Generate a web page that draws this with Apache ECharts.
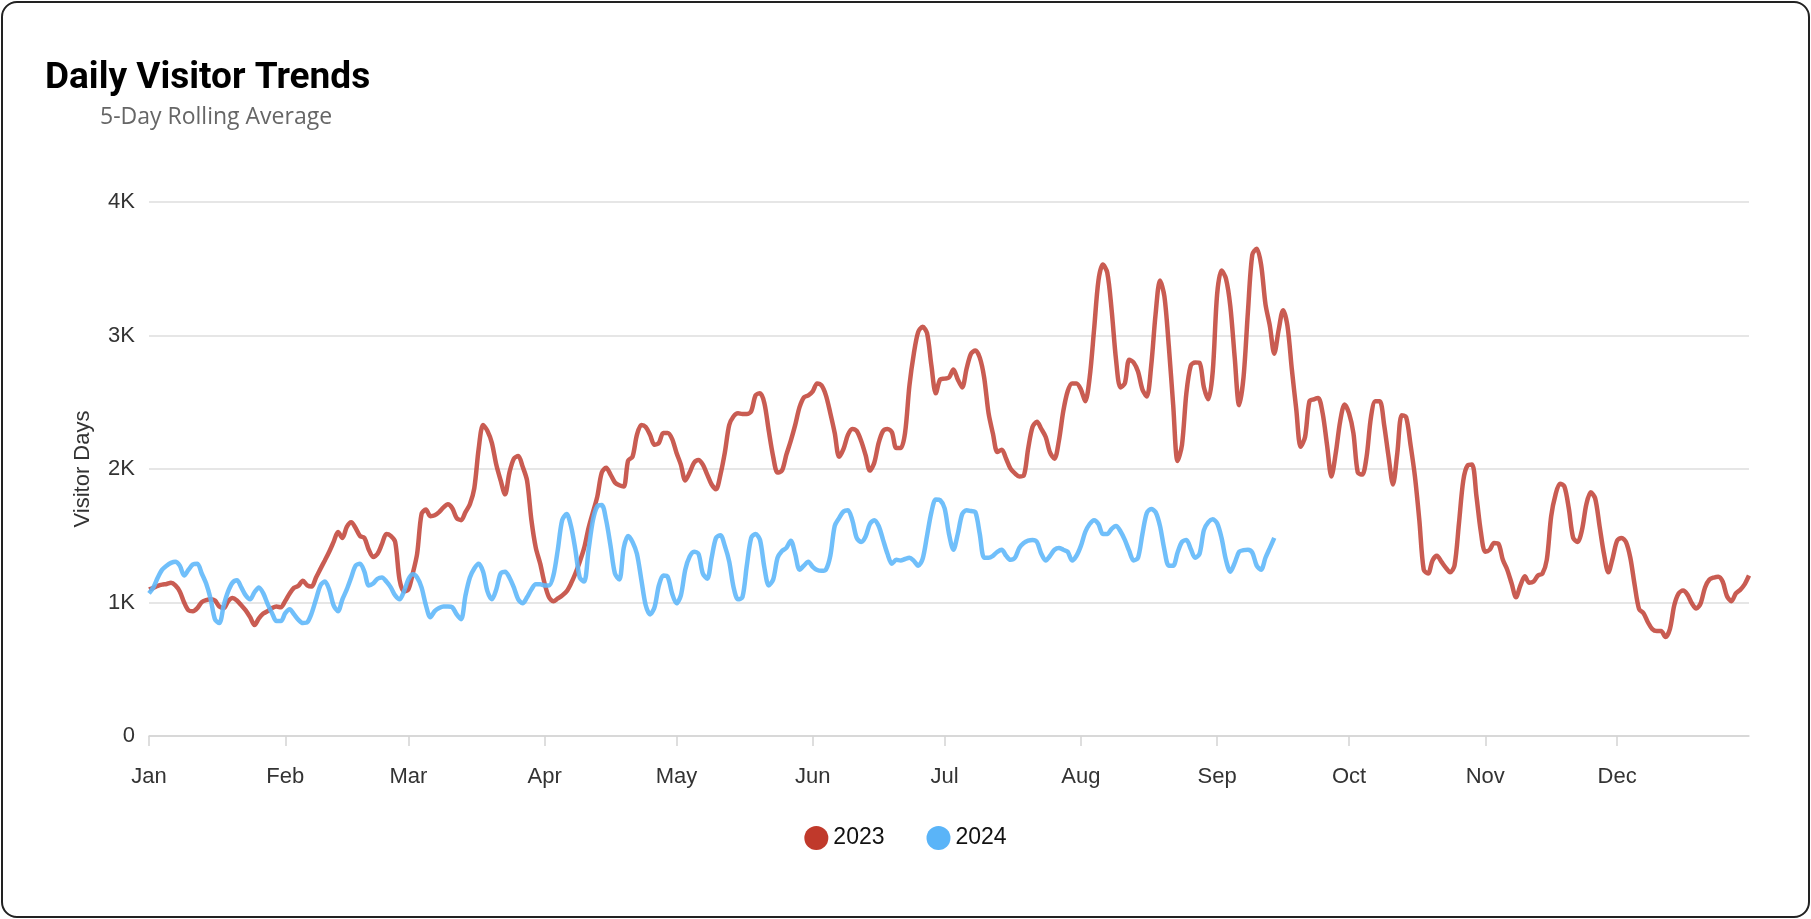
<!DOCTYPE html>
<html>
<head>
<meta charset="utf-8">
<title>Daily Visitor Trends</title>
<script src="https://cdn.jsdelivr.net/npm/echarts@6/dist/echarts.min.js"></script>
<style>
  html, body { margin: 0; padding: 0; background: #fff; }
  #wrap { position: relative; width: 1811px; height: 919px; }
  #chart { position: absolute; left: 0; top: 0; width: 1811px; height: 919px; }
  #frame {
    position: absolute; left: 1px; top: 1px; right: 1px; bottom: 1px;
    border: 2px solid #222; border-radius: 16px; pointer-events: none;
  }
</style>
</head>
<body>
<div id="wrap">
  <div id="chart"></div>
  <div id="frame"></div>
</div>
<script>
// month axis
const monthLabels = ['Jan', 'Feb', 'Mar', 'Apr', 'May', 'Jun', 'Jul', 'Aug', 'Sep', 'Oct', 'Nov', 'Dec'];
const monthDays = [31, 28, 31, 30, 31, 30, 31, 31, 30, 31, 30, 31];
const yTicks = [0, 1000, 2000, 3000, 4000];

// 5-day rolling average, one value per day of year
const visitors2023 = [
  1098, 1110, 1125, 1134, 1139, 1148, 1128, 1083, 1000, 941,
  935, 958, 1003, 1018, 1024, 1015, 970, 958, 1009, 1033,
  1015, 979, 941, 890, 831, 881, 917, 935, 958, 970,
  964, 1012, 1068, 1110, 1125, 1163, 1128, 1119, 1187, 1252,
  1315, 1380, 1454, 1528, 1484, 1567, 1602, 1558,
  1499, 1484, 1395, 1341, 1365, 1439, 1513, 1499, 1454, 1172, 1083, 1098,
  1217, 1365, 1662, 1697, 1647, 1653, 1677, 1712, 1736, 1706,
  1632, 1617, 1677, 1736, 1855, 2151, 2329, 2285, 2196, 2033,
  1914, 1810, 1973, 2077, 2097, 2018, 1914, 1617, 1409, 1291,
  1142, 1039, 1009, 1030, 1053, 1083, 1142, 1217, 1306, 1409,
  1558, 1677, 1795, 1973, 2009, 1958, 1899, 1878, 1869, 2062,
  2092, 2255, 2329, 2315, 2255, 2181, 2196, 2270, 2270, 2226,
  2122, 2033, 1914, 1973, 2047, 2068, 2033, 1958, 1884, 1849,
  1958, 2122, 2329, 2395, 2418, 2412, 2412, 2433, 2552, 2567,
  2493, 2285, 2092, 1973, 1988, 2107, 2211, 2329, 2463, 2537,
  2552, 2582, 2641, 2626, 2552, 2418, 2270, 2092, 2151, 2255,
  2300, 2285, 2211, 2107, 1988, 2047, 2196, 2285, 2300, 2276,
  2157, 2157, 2270, 2626, 2864, 3027, 3065, 3018, 2774, 2567,
  2671, 2677, 2685, 2745, 2671, 2611, 2751, 2864, 2887, 2834,
  2685, 2418, 2264, 2128, 2145, 2077, 2003, 1967, 1944, 1950,
  2151, 2315, 2353, 2300, 2240, 2122, 2077, 2211, 2433, 2582,
  2641, 2641, 2596, 2507, 2685, 3042, 3412, 3531, 3472, 3190,
  2819, 2611, 2641, 2819, 2798, 2730, 2596, 2543, 2774, 3160,
  3412, 3294, 2923, 2480, 2060, 2180, 2567, 2774, 2798, 2795,
  2611, 2522, 2730, 3309, 3487, 3427, 3220, 2834, 2478, 2685,
  3175, 3605, 3650, 3531, 3234, 3071, 2864, 3042, 3190, 3071,
  2745, 2448, 2166, 2240, 2507, 2522, 2531, 2418, 2181, 1944,
  2122, 2359, 2484, 2418, 2270, 1973, 1958, 2092, 2389, 2507,
  2507, 2329, 2092, 1884, 2122, 2403, 2389, 2181, 1944, 1617,
  1246, 1217, 1315, 1350, 1306, 1261, 1226, 1276, 1588, 1914,
  2027, 2033, 1795, 1528, 1380, 1395, 1445, 1439, 1320, 1246,
  1142, 1039, 1128, 1196, 1148, 1157, 1202, 1217, 1320, 1647,
  1810, 1890, 1869, 1706, 1484, 1454, 1543, 1736, 1825, 1780,
  1573, 1365, 1226, 1335, 1463, 1484, 1454, 1335, 1128, 950,
  920, 852, 801, 786, 786, 742, 801, 979, 1068, 1089,
  1059, 994, 955, 994, 1113, 1172, 1187, 1193, 1157, 1047,
  1009, 1068, 1095, 1136, 1202
];

const visitors2024 = [
  1068, 1113, 1187, 1246, 1276, 1297, 1306, 1276, 1202, 1246,
  1285, 1291, 1217, 1142, 1030, 875, 846, 979, 1083, 1148,
  1166, 1113, 1053, 1024, 1077, 1113, 1068, 988, 920, 861,
  861, 920, 950, 911, 870, 846, 852, 920, 1024, 1128,
  1157, 1098, 979, 935, 1024, 1098, 1187, 1276,
  1291, 1231, 1128, 1142, 1178, 1187, 1157, 1113, 1053, 1024, 1083, 1172,
  1211, 1187, 1113, 979, 890, 935, 958, 970, 970, 964,
  911, 875, 1053, 1187, 1255, 1291, 1231, 1083, 1024, 1098,
  1217, 1231, 1187, 1113, 1024, 994, 1039, 1098, 1136, 1136,
  1128, 1128, 1202, 1395, 1617, 1662, 1573, 1395, 1187, 1157,
  1395, 1617, 1721, 1730, 1617, 1424, 1217, 1172, 1409, 1499,
  1454, 1365, 1172, 979, 911, 964, 1128, 1202, 1193, 1068,
  994, 1053, 1246, 1344, 1380, 1365, 1217, 1178, 1335, 1484,
  1504, 1424, 1306, 1113, 1024, 1039, 1276, 1484, 1513, 1469,
  1261, 1128, 1172, 1335, 1386, 1409, 1463, 1365, 1246, 1276,
  1306, 1267, 1243, 1237, 1246, 1350, 1573, 1632, 1682, 1691,
  1617, 1484, 1454, 1493, 1588, 1617, 1573, 1469, 1365, 1291,
  1320, 1315, 1326, 1335, 1312, 1276, 1326, 1499, 1677, 1772,
  1766, 1706, 1513, 1395, 1513, 1662, 1691, 1685, 1677, 1513,
  1335, 1335, 1350, 1380, 1395, 1350, 1320, 1335, 1409, 1445,
  1463, 1469, 1454, 1365, 1315, 1350, 1395, 1409, 1395, 1380,
  1315, 1350, 1424, 1528, 1588, 1617, 1588, 1513, 1513, 1552,
  1573, 1534, 1469, 1386, 1315, 1335, 1513, 1671, 1700, 1677,
  1573, 1395, 1276, 1276, 1374, 1454, 1469, 1401, 1335, 1365,
  1543, 1602, 1623, 1593, 1484, 1320, 1231, 1297, 1380, 1392,
  1395, 1374, 1276, 1246, 1335, 1409, 1484
];

// day-of-year categories, month starts get a label and a tick
const days = [];
const monthStarts = [];
monthDays.forEach((n, m) => {
  monthStarts.push(days.length);
  for (let d = 1; d <= n; d++) days.push(monthLabels[m] + ' ' + d);
});
const isMonthStart = (i) => monthStarts.indexOf(i) !== -1;

const chart = echarts.init(document.getElementById('chart'));

const option = {
  animation: false,
  title: [
    {
      text: 'Daily Visitor Trends',
      left: 40,
      top: 55,
      textStyle: { fontFamily: 'Roboto, sans-serif', fontWeight: 'bold', fontSize: 37, color: '#000' }
    },
    {
      text: '5-Day Rolling Average',
      left: 95,
      top: 101,
      textStyle: { fontFamily: '"Open Sans", sans-serif', fontWeight: 'normal', fontSize: 23, color: '#666' }
    }
  ],
  legend: {
    data: ['2023', '2024'],
    bottom: 64,
    left: 'center',
    icon: 'circle',
    itemWidth: 24,
    itemHeight: 24,
    itemGap: 42,
    textStyle: { fontFamily: '"Liberation Sans", Arial, sans-serif', fontSize: 23, color: '#111' }
  },
  grid: { left: 149, right: 62, top: 202, bottom: 183 },
  xAxis: {
    type: 'category',
    data: days,
    boundaryGap: false,
    axisLine: { lineStyle: { color: '#d4d4d4', width: 1.5 } },
    axisTick: { interval: isMonthStart, length: 10, lineStyle: { color: '#d4d4d4', width: 1.5 } },
    axisLabel: {
      interval: isMonthStart,
      formatter: (v) => v.split(' ')[0],
      margin: 30,
      fontFamily: '"Liberation Sans", Arial, sans-serif',
      fontSize: 22,
      color: '#333'
    },
    splitLine: { show: false }
  },
  yAxis: {
    type: 'value',
    min: yTicks[0],
    max: yTicks[yTicks.length - 1],
    interval: 1000,
    name: 'Visitor Days',
    nameLocation: 'middle',
    nameGap: 55,
    nameTextStyle: { fontFamily: '"Liberation Sans", Arial, sans-serif', fontSize: 22, color: '#333' },
    axisLine: { show: false },
    axisTick: { show: false },
    axisLabel: {
      formatter: (v) => (v === 0 ? '0' : v / 1000 + 'K'),
      margin: 14,
      fontFamily: '"Liberation Sans", Arial, sans-serif',
      fontSize: 22,
      color: '#333'
    },
    splitLine: { lineStyle: { color: '#dedede', width: 1.5 } }
  },
  series: [
    {
      name: '2023',
      type: 'line',
      data: visitors2023,
      showSymbol: false,
      smooth: 0.3,
      itemStyle: { color: '#c0392b' },
      lineStyle: { color: 'rgba(192,64,52,0.85)', width: 4.5 },
      z: 2
    },
    {
      name: '2024',
      type: 'line',
      data: visitors2024,
      showSymbol: false,
      smooth: 0.3,
      itemStyle: { color: '#5ab4f8' },
      lineStyle: { color: 'rgba(96,184,250,0.9)', width: 4.5 },
      z: 3
    }
  ]
};

chart.setOption(option);
</script>
</body>
</html>
